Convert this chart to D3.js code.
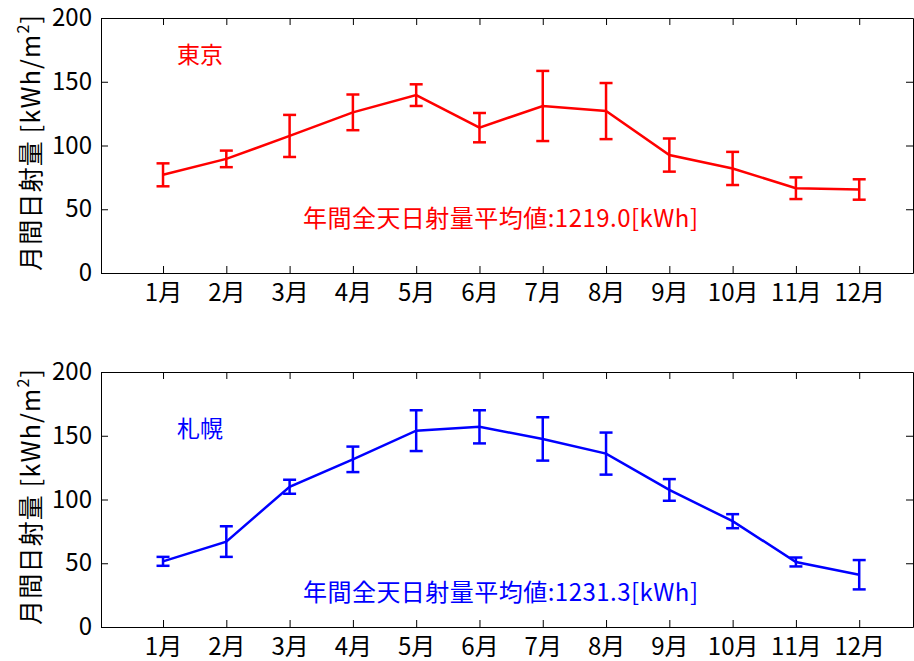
<!DOCTYPE html>
<html lang="ja">
<head>
  <meta charset="UTF-8">
  <title>月間日射量</title>
  <script src="https://cdn.jsdelivr.net/npm/d3@7"></script>
  <style>
    body { margin: 0; background: #fff; }
    svg text { font-family: "Noto Sans CJK JP", sans-serif; }
  </style>
</head>
<body>
  <svg id="chart" width="914" height="661"></svg>

  <script>
    // month labels and values
    const months = ["1月", "2月", "3月", "4月", "5月", "6月", "7月", "8月", "9月", "10月", "11月", "12月"];
    const monthNums = [1, 2, 3, 4, 5, 6, 7, 8, 9, 10, 11, 12];
    const yTicks = [0, 50, 100, 150, 200];

    const tokyoMean = [77, 89.5, 107.5, 126, 139.5, 114, 131, 127, 92.5, 82, 66.5, 65.5];
    const tokyoErr  = [9, 6.5, 16.5, 14, 8.5, 11.5, 27.5, 22, 13, 13, 8.5, 8];

    const sapporoMean = [51.5, 67, 110, 131.5, 154, 157, 147.5, 136, 107.5, 83, 51, 41];
    const sapporoErr  = [3.5, 12, 5.5, 10, 16, 13, 17, 16.5, 8.5, 5.5, 3.5, 11.5];

    const svg = d3.select("#chart");

    const x = d3.scaleLinear().domain([0.02, 12.85]).range([101, 913]);

    function drawPanel(top, mean, err, color, city, cityY, total, totalY) {
      const y = d3.scaleLinear().domain([0, 200]).range([top + 255, top]);
      const g = svg.append("g");

      // axes box with inward ticks on every side
      const axisStyle = sel => {
        sel.selectAll("path, line").attr("stroke", "#000").attr("stroke-width", 1);
        sel.selectAll("text").attr("fill", "#000").attr("font-size", 24)
           .attr("font-family", "Noto Sans CJK JP, sans-serif");
      };
      g.append("g").attr("transform", `translate(0,${top + 255})`)
        .call(d3.axisBottom(x).tickValues(monthNums).tickFormat((d, i) => months[i])
              .tickSize(-7).tickSizeOuter(0).tickPadding(11))
        .call(axisStyle);
      g.append("g").attr("transform", `translate(0,${top})`)
        .call(d3.axisTop(x).tickValues(monthNums).tickFormat("").tickSize(-7).tickSizeOuter(0))
        .call(axisStyle);
      g.append("g").attr("transform", "translate(101,0)")
        .call(d3.axisLeft(y).tickValues(yTicks).tickSize(-7).tickSizeOuter(0).tickPadding(9))
        .call(axisStyle);
      g.append("g").attr("transform", "translate(913,0)")
        .call(d3.axisRight(y).tickValues(yTicks).tickFormat("").tickSize(-7).tickSizeOuter(0))
        .call(axisStyle);

      // y label
      const yl = g.append("text")
        .attr("transform", `translate(40,${top + 125}) rotate(-90)`)
        .attr("text-anchor", "middle")
        .attr("font-size", 25)
        .attr("textLength", 256)
        .attr("lengthAdjust", "spacing")
        .attr("fill", "#000");
      yl.append("tspan").text("月間日射量 [kWh/m");
      yl.append("tspan").attr("font-size", 16).attr("dy", -11).text("2");
      yl.append("tspan").attr("dy", 11).text("]");

      // line
      const line = d3.line().x((d, i) => x(monthNums[i])).y(d => y(d));
      g.append("path").datum(mean)
        .attr("d", line)
        .attr("fill", "none")
        .attr("stroke", color)
        .attr("stroke-width", 2.5);

      // error bars
      const eb = g.append("g").attr("stroke", color).attr("stroke-width", 2.5);
      mean.forEach((m, i) => {
        const cx = x(monthNums[i]);
        const y1 = y(m + err[i]), y0 = y(m - err[i]);
        eb.append("line").attr("x1", cx).attr("x2", cx).attr("y1", y1).attr("y2", y0);
        eb.append("line").attr("x1", cx - 6.5).attr("x2", cx + 6.5).attr("y1", y1).attr("y2", y1);
        eb.append("line").attr("x1", cx - 6.5).attr("x2", cx + 6.5).attr("y1", y0).attr("y2", y0);
      });

      g.append("text")
        .attr("x", x(1.22)).attr("y", y(cityY))
        .attr("font-size", 23)
        .attr("fill", color)
        .text(city);

      g.append("text")
        .attr("x", 303).attr("y", y(totalY))
        .attr("font-size", 24)
        .attr("textLength", 395)
        .attr("lengthAdjust", "spacing")
        .attr("fill", color)
        .text(total);
    }

    drawPanel(18, tokyoMean, tokyoErr, "#ff0000", "東京", 165, "年間全天日射量平均値:1219.0[kWh]", 36);
    drawPanel(372, sapporoMean, sapporoErr, "#0000ff", "札幌", 149, "年間全天日射量平均値:1231.3[kWh]", 20.5);
  </script>
</body>
</html>
